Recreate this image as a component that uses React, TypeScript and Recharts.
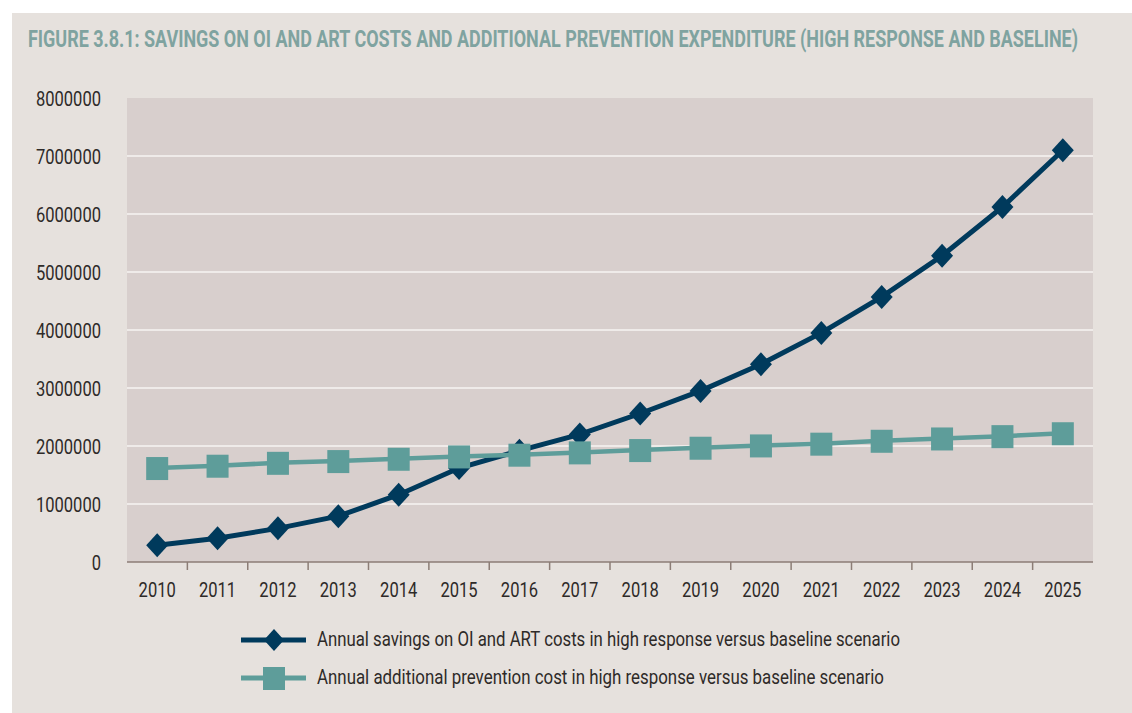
import React, { useLayoutEffect, useRef, useState } from "react";
import {
  CartesianGrid,
  Legend,
  Line,
  LineChart,
  XAxis,
  YAxis,
} from "recharts";

const years = [
  2010, 2011, 2012, 2013, 2014, 2015, 2016, 2017, 2018, 2019, 2020, 2021,
  2022, 2023, 2024, 2025,
];

// annual savings on OI and ART costs (high response vs baseline)
const savings = [
  290000, 410000, 580000, 790000, 1160000, 1620000, 1920000, 2200000,
  2560000, 2950000, 3410000, 3950000, 4570000, 5280000, 6120000, 7100000,
];

// annual additional prevention cost (high response vs baseline)
const prevention = [
  1620000, 1660000, 1710000, 1740000, 1780000, 1820000, 1850000, 1890000,
  1930000, 1970000, 2010000, 2040000, 2090000, 2130000, 2170000, 2220000,
];

const yTicks = [0, 1000000, 2000000, 3000000, 4000000, 5000000, 6000000, 7000000, 8000000];
const gridValues = [1000000, 2000000, 3000000, 4000000, 5000000, 6000000, 7000000];

const SAVINGS_NAME =
  "Annual savings on OI and ART costs in high response versus baseline scenario";
const PREVENTION_NAME =
  "Annual additional prevention cost in high response versus baseline scenario";
const TITLE =
  "FIGURE 3.8.1: SAVINGS ON OI AND ART COSTS AND ADDITIONAL PREVENTION EXPENDITURE (HIGH RESPONSE AND BASELINE)";

const data = years.map((year, i) => ({
  year,
  savings: savings[i],
  prevention: prevention[i],
}));

const DARK = "#003a5c";
const TEAL = "#5e9d9a";
const TEXT = "#2e2a28";
const FONT = "Roboto, 'DejaVu Sans Condensed', sans-serif";
const DIGIT_W = 9.3;

const W = 1132;
const H = 713;
const MARGIN = { top: 98, right: 39, bottom: 111, left: 0 };
const Y_AXIS_W = 127;
const PLOT_W = W - MARGIN.right - Y_AXIS_W;
const STEP = PLOT_W / years.length;
const TITLE_W = 1050;

function Diamond({ cx, cy, r = 11 }: { cx: number; cy: number; r?: number }) {
  return (
    <path
      d={`M${cx},${cy - r - 1}L${cx + r},${cy}L${cx},${cy + r + 1}L${cx - r},${cy}Z`}
      fill={DARK}
    />
  );
}

function Square({ cx, cy, s = 22 }: { cx: number; cy: number; s?: number }) {
  return <rect x={cx - s / 2} y={cy - s / 2} width={s} height={s + 1} fill={TEAL} />;
}

function YearTick(props: any) {
  const { x, y, payload, index } = props;
  const label = String(payload.value);
  const last = index === years.length - 1;
  return (
    <g>
      <text
        x={x}
        y={y + 35}
        textAnchor="middle"
        fill={TEXT}
        fontSize={21}
        fontFamily={FONT}
        textLength={label.length * DIGIT_W}
        lengthAdjust="spacingAndGlyphs"
      >
        {label}
      </text>
      {!last && (
        <line
          x1={x + STEP / 2}
          x2={x + STEP / 2}
          y1={y}
          y2={y + 8}
          stroke="#8c7d76"
          strokeWidth={1.5}
        />
      )}
    </g>
  );
}

function ValueTick(props: any) {
  const { x, y, payload } = props;
  const label = String(payload.value);
  return (
    <text
      x={x}
      y={y + 8}
      textAnchor="end"
      fill={TEXT}
      fontSize={21}
      fontFamily={FONT}
      textLength={label.length * DIGIT_W}
      lengthAdjust="spacingAndGlyphs"
    >
      {label}
    </text>
  );
}

function LegendBox() {
  const rows = [
    { name: SAVINGS_NAME, color: DARK, len: 583, kind: "diamond" },
    { name: PREVENTION_NAME, color: TEAL, len: 567, kind: "square" },
  ];
  return (
    <svg width={890} height={90} style={{ display: "block", overflow: "visible" }}>
      {rows.map((r, i) => {
        const cy = 25 + i * 38;
        return (
          <g key={r.name}>
            <line x1={11} x2={76} y1={cy} y2={cy} stroke={r.color} strokeWidth={5} />
            {r.kind === "diamond" ? (
              <Diamond cx={44} cy={cy} r={10} />
            ) : (
              <Square cx={44} cy={cy} s={22} />
            )}
            <text
              x={87}
              y={cy + 6}
              fill={TEXT}
              fontSize={20}
              fontFamily={FONT}
              textLength={r.len}
              lengthAdjust="spacingAndGlyphs"
            >
              {r.name}
            </text>
          </g>
        );
      })}
    </svg>
  );
}

// title squeezed horizontally to the reference width (condensed look)
function Title() {
  const ref = useRef<SVGTextElement>(null);
  const [sx, setSx] = useState(0.84);
  useLayoutEffect(() => {
    if (ref.current) {
      const len = ref.current.getComputedTextLength();
      if (len > 0) setSx(TITLE_W / len);
    }
  }, []);
  return (
    <svg width={W} height={70} style={{ position: "absolute", left: 0, top: 0 }}>
      <g transform={`translate(28,47) scale(${sx},1)`}>
        <text
          ref={ref}
          x={0}
          y={0}
          fill="#7fa3a0"
          fontSize={24}
          fontWeight="bold"
          fontFamily={FONT}
        >
          {TITLE}
        </text>
      </g>
    </svg>
  );
}

export default function App() {
  return (
    <div
      style={{
        position: "absolute",
        left: 0,
        top: 0,
        width: W,
        height: H,
        background: "#ffffff",
        overflow: "hidden",
      }}
    >
      <div
        style={{
          position: "absolute",
          left: 12,
          top: 13,
          right: 0,
          bottom: 0,
          background: "#e6e1dd",
        }}
      />
      <Title />
      <div style={{ position: "absolute", left: 0, top: 0 }}>
        <LineChart width={W} height={H} data={data} margin={MARGIN}>
          <CartesianGrid
            vertical={false}
            horizontalValues={gridValues}
            stroke="#f7f4f2"
            strokeWidth={1.5}
            fill="#d8cfcd"
            fillOpacity={1}
          />
          <XAxis
            dataKey="year"
            type="number"
            domain={[2009.5, 2025.5]}
            ticks={years}
            interval={0}
            height={40}
            tickSize={0}
            tickMargin={0}
            tickLine={false}
            axisLine={{ stroke: "#8c7d76", strokeWidth: 1.5 }}
            tick={<YearTick />}
          />
          <YAxis
            width={Y_AXIS_W}
            domain={[0, 8000000]}
            ticks={yTicks}
            interval={0}
            axisLine={false}
            tickLine={false}
            tickSize={0}
            tickMargin={26}
            tick={<ValueTick />}
          />
          <Legend
            layout="vertical"
            align="center"
            verticalAlign="middle"
            wrapperStyle={{ top: 615, left: 230, width: "auto" }}
            content={() => <LegendBox />}
          />
          <Line
            dataKey="savings"
            name={SAVINGS_NAME}
            stroke={DARK}
            strokeWidth={5}
            isAnimationActive={false}
            dot={(p: any) => <Diamond key={`d${p.index}`} cx={p.cx} cy={p.cy} />}
            activeDot={false}
          />
          <Line
            dataKey="prevention"
            name={PREVENTION_NAME}
            stroke={TEAL}
            strokeWidth={4.5}
            isAnimationActive={false}
            dot={(p: any) => <Square key={`s${p.index}`} cx={p.cx} cy={p.cy} />}
            activeDot={false}
          />
        </LineChart>
      </div>
    </div>
  );
}
